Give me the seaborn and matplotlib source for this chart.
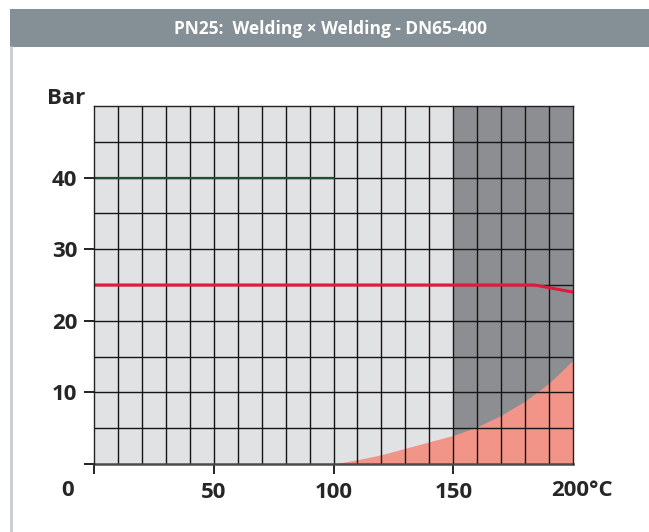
import matplotlib
matplotlib.use("Agg")
import matplotlib.pyplot as plt
import seaborn as sns
import pandas as pd
from matplotlib.patches import Rectangle
from matplotlib.lines import Line2D

# Pressure rating data
title = "PN25:  Welding \u00d7 Welding - DN65-400"
rated_temp = [0, 184, 200]          # °C
rated_pressure = [25, 25, 24]       # bar
test_temp = [0, 100]                # °C
test_pressure = [40, 40]            # bar
steam_temp = [100, 110, 120, 130, 140, 150, 160, 170, 180, 190, 200]
steam_pressure = [0, 0.6, 1.3, 2.2, 3.1, 4.0, 5.2, 6.8, 8.8, 11.3, 14.5]
x_ticks = [0, 50, 100, 150]
x_labels = ["", "50", "100", "150"]
y_ticks = [0, 10, 20, 30, 40]
y_labels = ["", "10", "20", "30", "40"]

sns.set_style("white")
plt.rcParams["font.family"] = ["Open Sans", "DejaVu Sans"]

W, H = 649, 532
fig = plt.figure(figsize=(W / 100, H / 100), dpi=100)

def fx(px):
    return px / W

def fy(py):
    return (H - py) / H

ax = fig.add_axes([fx(94), fy(464), fx(573) - fx(94), fy(106) - fy(464)])
ax.set_facecolor("#e1e2e4")
ax.set_xlim(0, 200)
ax.set_ylim(0, 50)

# High temperature zone
ax.axvspan(150, 200, color="#8c8e91", lw=0, zorder=0.5)

# Saturated steam area
ax.fill_between(steam_temp, 0, steam_pressure, color="#f29488", lw=0, zorder=1)

# Grid lines drawn over the fills
for xv in range(10, 200, 10):
    ax.axvline(xv, color="#151515", lw=1.0, zorder=2)
for yv in range(5, 50, 5):
    ax.axhline(yv, color="#151515", lw=1.0, zorder=2)

df_rated = pd.DataFrame({"t": rated_temp, "p": rated_pressure})
df_test = pd.DataFrame({"t": test_temp, "p": test_pressure})
sns.lineplot(data=df_test, x="t", y="p", ax=ax, color="#1f5035", lw=1.6, zorder=3)
sns.lineplot(data=df_rated, x="t", y="p", ax=ax, color="#e2183d", lw=2.2, zorder=4)

ax.set_xlabel("")
ax.set_ylabel("")
ax.set_xticks(x_ticks)
ax.set_xticklabels(x_labels)
ax.set_yticks(y_ticks)
ax.set_yticklabels(y_labels)
ax.tick_params(axis="both", which="major", bottom=True, left=True,
               direction="out", length=7, width=1.3, color="#111111",
               labelsize=16, pad=5)
ax.tick_params(axis="x", pad=6)
for lab in ax.get_xticklabels() + ax.get_yticklabels():
    lab.set_fontweight("bold")

for side in ["top", "right", "left"]:
    ax.spines[side].set_color("#222222")
    ax.spines[side].set_linewidth(1.0)
    ax.spines[side].set_zorder(5)
ax.spines["bottom"].set_color("#4a4a4a")
ax.spines["bottom"].set_linewidth(1.8)

# Extra labels
fig.text(fx(68), fy(490), "0", ha="center", va="center", fontsize=16,
         fontweight="bold")
fig.text(fx(551), fy(490), "200\u00b0C", ha="left", va="center", fontsize=16,
         fontweight="bold")
fig.text(fx(66), fy(98), "Bar", ha="center", va="center", fontsize=16,
         fontweight="bold")

# Header band and frame
fig.patches.append(Rectangle((fx(10), fy(47)), 1 - fx(10), fy(9) - fy(47),
                             transform=fig.transFigure, color="#848f96", lw=0))
fig.text(fx(331), fy(28.5), title, ha="center", va="center", color="white",
         fontsize=12.5, fontweight="bold")
fig.lines.append(Line2D([fx(11), fx(11)], [0, fy(47)], transform=fig.transFigure,
                        color="#c8ccd0", lw=2))

fig.savefig("out.png", dpi=100)
